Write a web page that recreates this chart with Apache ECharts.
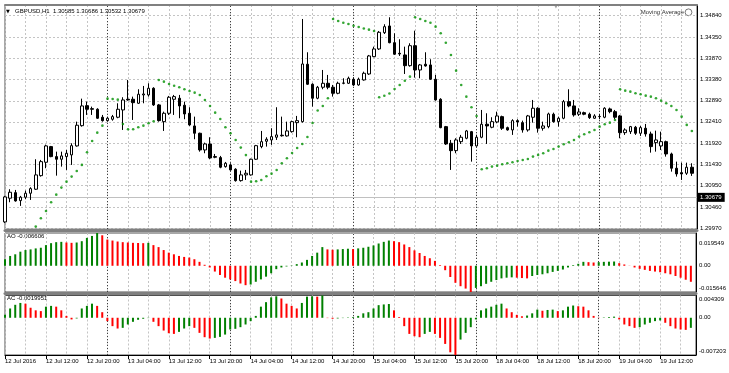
<!DOCTYPE html>
<html><head><meta charset="utf-8">
<script src="https://cdn.jsdelivr.net/npm/echarts@6/dist/echarts.min.js"></script>
<style>html,body{margin:0;padding:0;background:#fff}#c{width:729px;height:373px}</style>
</head><body><div id="c"></div>
<script>
// ---------- data ----------
const days = ['12 Jul','13 Jul','14 Jul','15 Jul','18 Jul','19 Jul'];
const firstHour = 4;
const barCount = 135;
const xTickLabels = ['12 Jul 2016','12 Jul 12:00','12 Jul 20:00','13 Jul 04:00','13 Jul 12:00','13 Jul 20:00',
  '14 Jul 04:00','14 Jul 12:00','14 Jul 20:00','15 Jul 04:00','15 Jul 12:00','15 Jul 20:00',
  '18 Jul 04:00','18 Jul 12:00','18 Jul 20:00','19 Jul 04:00','19 Jul 12:00'];
const priceTicks = ['1.29970','1.30460','1.30950','1.31430','1.31920','1.32410','1.32890','1.33380','1.33870','1.34350','1.34840'];
const lastPrice = '1.30679';
const headerText = 'GBPUSD,H1  1.30585 1.30686 1.30532 1.30679';
const aoTicks = ['0.019549','0.00','-0.015646'];
const acTicks = ['0.004309','0.00','-0.007203'];
const aoLabel = 'AO -0.006606';
const acLabel = 'AC -0.0019951';

const opens = [1.30116,1.30659,1.30787,1.30604,1.30682,1.30773,1.30865,1.31176,1.31483,1.31841,
1.31612,1.31552,1.31612,1.31651,1.31857,1.32321,1.32779,1.32711,1.32697,1.32514,
1.32436,1.32468,1.32514,1.32681,1.32926,1.32926,1.32834,1.33025,1.33025,1.33178,
1.32796,1.32413,1.32605,1.32926,1.32949,1.32789,1.32605,1.32315,1.32147,1.31765,
1.31902,1.31612,1.31589,1.31383,1.31422,1.31323,1.31062,1.31193,1.31193,1.31552,
1.31841,1.31964,1.31994,1.32056,1.32102,1.32086,1.32184,1.32390,1.32413,1.33728,
1.33270,1.32949,1.33201,1.33292,1.33201,1.33063,1.33292,1.33292,1.33384,1.33254,
1.33368,1.33505,1.33902,1.34078,1.34451,1.34605,1.34222,1.33979,1.33941,1.33695,
1.34153,1.33597,1.33728,1.33712,1.33384,1.32926,1.32299,1.31918,1.31749,1.31955,
1.32033,1.32184,1.31857,1.32056,1.32354,1.32285,1.32406,1.32528,1.32276,1.32223,
1.32436,1.32390,1.32223,1.32514,1.32720,1.32262,1.32299,1.32583,1.32413,1.32491,
1.32871,1.32773,1.32583,1.32619,1.32583,1.32491,1.32528,1.32514,1.32704,1.32642,
1.32544,1.32161,1.32184,1.32285,1.32147,1.32262,1.32131,1.31932,1.31857,1.31955,
1.31673,1.31346,1.31245,1.31231,1.31369];
const closes = [1.30689,1.30796,1.30597,1.30682,1.30773,1.30879,1.31193,1.31497,1.31857,1.31612,
1.31552,1.31628,1.31689,1.31863,1.32331,1.32773,1.32697,1.32697,1.32491,1.32436,
1.32491,1.32528,1.32697,1.32910,1.32910,1.32848,1.33041,1.33047,1.33178,1.32796,
1.32436,1.32605,1.32972,1.32986,1.32773,1.32589,1.32338,1.32147,1.31765,1.31902,
1.31582,1.31598,1.31369,1.31460,1.31307,1.31062,1.31193,1.31231,1.31552,1.31863,
1.31955,1.32010,1.32070,1.32109,1.32090,1.32200,1.32413,1.32436,1.33734,1.33270,
1.32949,1.33201,1.33292,1.33201,1.33063,1.33292,1.33299,1.33407,1.33254,1.33384,
1.33521,1.33918,1.34078,1.34460,1.34589,1.34222,1.33957,1.33963,1.33695,1.34153,
1.33597,1.33712,1.33689,1.33384,1.32910,1.32276,1.31902,1.31749,1.31994,1.32056,
1.32200,1.31857,1.32056,1.32354,1.32315,1.32413,1.32544,1.32262,1.32223,1.32436,
1.32406,1.32223,1.32544,1.32720,1.32262,1.32315,1.32589,1.32413,1.32491,1.32871,
1.32773,1.32567,1.32635,1.32583,1.32505,1.32544,1.32532,1.32720,1.32642,1.32514,
1.32161,1.32223,1.32299,1.32147,1.32276,1.32131,1.31841,1.31994,1.31955,1.31673,
1.31346,1.31215,1.31215,1.31369,1.31231];
const highs = [1.30712,1.30865,1.30849,1.30712,1.30833,1.30911,1.31552,1.31536,1.31886,1.31857,
1.31726,1.31726,1.31765,1.31918,1.32413,1.32940,1.32871,1.32757,1.32720,1.32567,
1.32528,1.32567,1.32834,1.32972,1.33368,1.32986,1.33155,1.33231,1.33292,1.33201,
1.32818,1.32642,1.33002,1.33025,1.33025,1.32871,1.32743,1.32528,1.32161,1.31932,
1.32056,1.31673,1.31628,1.31490,1.31460,1.31346,1.31291,1.31307,1.31566,1.31880,
1.32200,1.32056,1.32262,1.32743,1.32528,1.32413,1.32436,1.32544,1.34765,1.34002,
1.33292,1.33231,1.33597,1.33483,1.33254,1.33329,1.33407,1.33444,1.33430,1.33421,
1.33558,1.33941,1.34131,1.34490,1.34644,1.34804,1.34437,1.34300,1.34131,1.34208,
1.34497,1.33734,1.34002,1.33842,1.33483,1.32949,1.32315,1.31994,1.32033,1.32109,
1.32223,1.32200,1.32109,1.32681,1.32605,1.32514,1.32642,1.32550,1.32299,1.32468,
1.32468,1.32436,1.32567,1.32910,1.32743,1.32413,1.32619,1.32619,1.32528,1.32910,
1.33155,1.32910,1.32720,1.32642,1.32619,1.32583,1.32583,1.32743,1.32734,1.32681,
1.32567,1.32262,1.32315,1.32315,1.32315,1.32360,1.32184,1.32207,1.32184,1.31978,
1.31703,1.31497,1.31474,1.31474,1.31460];
const lows = [1.30093,1.30567,1.30581,1.30483,1.30636,1.30620,1.30849,1.31154,1.31346,1.31598,
1.31176,1.31383,1.31307,1.31422,1.31841,1.32299,1.32567,1.32567,1.32475,1.32413,
1.32413,1.32436,1.32491,1.32223,1.32894,1.32452,1.32818,1.32834,1.32986,1.32773,
1.32413,1.32200,1.32567,1.32567,1.32491,1.32468,1.32315,1.32010,1.31726,1.31689,
1.31552,1.31575,1.31346,1.31360,1.31291,1.31039,1.31039,1.31078,1.31176,1.31536,
1.31804,1.31841,1.31880,1.31994,1.32070,1.32070,1.32161,1.32056,1.32390,1.33254,
1.32757,1.32926,1.33155,1.33155,1.32986,1.33041,1.33270,1.33276,1.33231,1.33237,
1.33352,1.33483,1.33888,1.34055,1.34421,1.34208,1.33941,1.33918,1.33505,1.33673,
1.33421,1.33407,1.33673,1.33368,1.32894,1.32262,1.31880,1.31307,1.31689,1.31902,
1.32010,1.31497,1.31841,1.32033,1.31902,1.32262,1.32376,1.32223,1.32207,1.32109,
1.32299,1.32161,1.32184,1.32390,1.32161,1.32207,1.32262,1.32390,1.32299,1.32468,
1.32743,1.32528,1.32544,1.32560,1.32475,1.32475,1.32468,1.32491,1.32605,1.32468,
1.32033,1.32109,1.32131,1.32109,1.32086,1.32070,1.31703,1.31726,1.31765,1.31612,
1.31268,1.31154,1.31078,1.31193,1.31170];
const sar = [null,null,null,null,null,1.29944,1.30009,1.30201,1.30368,1.30567,
1.30741,1.30902,1.31039,1.31154,1.31284,1.31422,1.31712,1.31971,1.32161,1.32321,
1.32940,1.32933,1.32917,1.32360,1.32239,1.32239,1.32285,1.32321,1.32376,1.32422,
1.33368,1.33329,1.33276,1.33237,1.33201,1.33155,1.33116,1.33077,1.33025,1.32910,
1.32773,1.32619,1.32475,1.32285,1.32147,1.31994,1.31818,1.31647,1.31039,1.31048,
1.31078,1.31163,1.31222,1.31307,1.31460,1.31575,1.31696,1.31811,1.31902,1.32063,
1.32383,1.32670,1.32773,1.32949,1.34765,1.34719,1.34680,1.34650,1.34611,1.34582,
1.34547,1.34520,1.34490,1.32972,1.33006,1.33059,1.33162,1.33254,1.33350,1.33444,
1.34804,1.34765,1.34719,1.34680,1.34589,1.34437,1.34222,1.33941,1.33581,1.33254,
1.32986,1.32743,1.32544,1.31323,1.31346,1.31383,1.31405,1.31438,1.31460,1.31483,
1.31513,1.31536,1.31559,1.31612,1.31651,1.31689,1.31749,1.31788,1.31841,1.31896,
1.31941,1.31994,1.32070,1.32125,1.32170,1.32223,1.32299,1.32354,1.32390,1.32452,
1.33155,1.33123,1.33100,1.33063,1.33041,1.33008,1.32986,1.32949,1.32894,1.32834,
1.32773,1.32681,1.32528,1.32338,1.32200];
const ao = [0.0039,0.00586,0.00684,0.00841,0.00938,0.00977,0.01036,0.01075,0.01232,0.01349,
0.01408,0.01427,0.01388,0.01368,0.01388,0.01466,0.01662,0.01779,0.019549,0.01818,
0.01564,0.01505,0.01447,0.01408,0.01388,0.01368,0.01359,0.01349,0.01368,0.01232,
0.01114,0.00938,0.00782,0.00684,0.00586,0.00528,0.00489,0.00391,0.00235,0.00059,
-0.00102,-0.00345,-0.00549,-0.00711,-0.00813,-0.00914,-0.01057,-0.01158,-0.01118,-0.00955,
-0.00813,-0.0065,-0.00447,-0.00203,-0.00102,-0.00041,0.0002,0.00098,0.00195,0.00352,
0.00586,0.00782,0.01114,0.00977,0.00958,0.00977,0.00997,0.01017,0.00997,0.01036,
0.01075,0.01134,0.01212,0.01329,0.01427,0.01505,0.01466,0.01408,0.01271,0.01114,
0.00919,0.00762,0.00586,0.0045,0.00293,0.00039,-0.00264,-0.00671,-0.01016,-0.01219,
-0.01361,-0.015646,-0.01321,-0.01219,-0.01077,-0.00955,-0.00853,-0.00752,-0.00711,-0.00691,
-0.00711,-0.00732,-0.00752,-0.0061,-0.00549,-0.00508,-0.00447,-0.00366,-0.00305,-0.00224,
-0.00102,0.00039,0.00117,0.00235,0.00215,0.00195,0.00215,0.00235,0.00244,0.00254,
0.00156,0.00078,-0.0001,-0.00102,-0.00183,-0.00244,-0.00305,-0.00345,-0.00386,-0.00447,
-0.00508,-0.0061,-0.00711,-0.00833,-0.00955];
const ac = [0.00057,0.0018,0.00251,0.00287,0.00273,0.00194,0.00144,0.00129,0.00215,0.0023,
0.00215,0.00144,0.00036,-0.00032,-0.00013,0.0018,0.0023,0.00273,0.0023,0.00108,
-0.00065,-0.00162,-0.00208,-0.00195,-0.0013,-0.00078,-0.00039,-0.00019,-0.00006,-0.00078,
-0.00162,-0.00247,-0.00299,-0.00312,-0.00273,-0.00208,-0.00162,-0.00195,-0.00292,-0.00376,
-0.00402,-0.00389,-0.0037,-0.00325,-0.00227,-0.00214,-0.00182,-0.0013,-0.00065,0.00036,
0.00215,0.00302,0.00395,0.00416,0.00373,0.00273,0.0023,0.0018,0.00287,0.00409,
0.00416,0.00409,0.004309,-0.00006,-0.00019,-0.00013,-0.00006,0.00007,0.00014,0.00036,
0.00086,0.00108,0.0018,0.00244,0.00258,0.00266,0.00144,0.00014,-0.00162,-0.00312,
-0.00357,-0.00376,-0.00312,-0.00273,-0.00312,-0.00389,-0.00506,-0.00668,-0.007203,-0.00422,
-0.00292,-0.00182,-0.00032,0.00144,0.0018,0.00215,0.00251,0.00273,0.0018,0.00108,
0.00057,0.00029,0.00043,0.00086,0.00158,0.00136,0.00151,0.00158,0.00129,0.00144,
0.00215,0.00237,0.00223,0.00215,0.00144,0.00036,-0.00006,0.00007,0.00014,0.00022,
-0.00032,-0.0013,-0.00162,-0.00195,-0.00182,-0.0013,-0.00097,-0.00065,-0.00052,-0.00097,
-0.00162,-0.00208,-0.00227,-0.00234,-0.00195];

// ---------- derived ----------
const categories = [];
for (let d = 0; d < days.length && categories.length < barCount; d++) {
  for (let h = (d === 0 ? firstHour : 0); h < 24 && categories.length < barCount; h++) {
    categories.push(days[d] + ' ' + String(h).padStart(2, '0') + ':00');
  }
}
const daySeps = categories.filter(c => c.endsWith(' 00:00'));

const FONT = 'Liberation Sans';
const GREEN = '#008000', RED = '#ff0000', SAR_GREEN = '#009000';
const DASH = { color: '#c4c4c4', type: [2, 2], width: 1 };
const DAYSEP = { color: '#404040', type: [1, 2], width: 1 };
const L = 5, R = 32;
const priceMin = 1.29954, priceMax = 1.35085;
const aoMax = parseFloat(aoTicks[0]), aoMin = parseFloat(aoTicks[2]);
const acMax = parseFloat(acTicks[0]), acMin = parseFloat(acTicks[2]);

function xAxisFor(grid, extra) {
  return Object.assign({
    type: 'category', gridIndex: grid, data: categories, boundaryGap: false, max: barCount,
    axisLine: { show: false }, axisTick: { show: false }, axisLabel: { show: false },
    splitLine: { show: true, interval: (i) => i % 4 === 0, lineStyle: DASH }
  }, extra);
}
function subLabel(ticks, max, min) {
  return function (v) {
    if (Math.abs(v) < 1e-12) return ticks[1];
    if (Math.abs(v - max) < 1e-7) return '{t|' + ticks[0] + '}';
    if (Math.abs(v - min) < 1e-7) return '{b|' + ticks[2] + '}';
    return '';
  };
}
function colored(arr) {
  return arr.map((v, i) => ({ value: v, itemStyle: { color: (i === 0 || v >= arr[i - 1]) ? GREEN : RED } }));
}
const daySepLines = daySeps.map(c => ({ xAxis: c, lineStyle: DAYSEP, label: { show: false } }));
const priceLines = priceTicks.map(t => ({
  yAxis: parseFloat(t), lineStyle: DASH,
  label: { show: true, position: 'end', formatter: t, color: '#000', fontSize: 6, fontFamily: FONT, distance: 3 }
}));
priceLines.push({
  yAxis: parseFloat(lastPrice), lineStyle: { color: '#c0c0c0', type: 'solid', width: 1 },
  label: { show: true, position: 'end', formatter: lastPrice, color: '#fff', backgroundColor: '#000',
    padding: [2, 3, 1, 2], fontSize: 6, fontFamily: FONT, distance: 1 }
});
const lbl = { fontSize: 6, fontFamily: FONT, color: '#000' };
const markBase = { silent: true, z: 1, precision: 8, symbol: ['none', 'none'], animation: false };

const option = {
  animation: false,
  backgroundColor: '#fff',
  grid: [
    { left: L, right: R, top: 5, height: 224, show: true, borderColor: '#505050', borderWidth: 1 },
    { left: L, right: R, top: 233, height: 59, show: true, borderColor: '#505050', borderWidth: 1 },
    { left: L, right: R, top: 295.5, height: 59.5, show: true, borderColor: '#505050', borderWidth: 1 }
  ],
  xAxis: [
    xAxisFor(0, { axisLine: { show: true, onZero: false, lineStyle: { color: '#808080', width: 3 } }, offset: 1.5 }),
    xAxisFor(1, { axisLine: { show: true, onZero: false, lineStyle: { color: '#808080', width: 3 } }, offset: 1.5 }),
    xAxisFor(2, {
      axisLine: { show: true, onZero: false, lineStyle: { color: '#000', width: 1 } },
      axisTick: { show: true, interval: 7, length: 4, lineStyle: { color: '#000' } },
      axisLabel: Object.assign({ show: true, interval: 7, align: 'left', margin: 3,
        formatter: (v, i) => xTickLabels[Math.round(i / 8)] || '' }, lbl)
    }),
    xAxisFor(0, { position: 'top', splitLine: { show: false },
      axisLine: { show: true, onZero: false, lineStyle: { color: '#808080', width: 2 } } })
  ],
  yAxis: [
    { type: 'value', gridIndex: 0, position: 'right', min: priceMin, max: priceMax, scale: true,
      axisLine: { show: true, lineStyle: { color: '#000' } }, axisTick: { show: false },
      axisLabel: { show: false }, splitLine: { show: false } },
    { type: 'value', gridIndex: 1, position: 'right', min: aoMin, max: aoMax, interval: -aoMin,
      axisLine: { show: true, lineStyle: { color: '#000' } }, axisTick: { show: false }, splitLine: { show: false },
      axisLabel: Object.assign({ show: true, margin: 3, showMinLabel: true, showMaxLabel: true,
        formatter: subLabel(aoTicks, aoMax, aoMin),
        rich: { t: Object.assign({ padding: [21, 0, 0, 0] }, lbl), b: Object.assign({ padding: [0, 0, 7, 0] }, lbl) } }, lbl) },
    { type: 'value', gridIndex: 2, position: 'right', min: acMin, max: acMax, interval: -acMin,
      axisLine: { show: true, lineStyle: { color: '#000' } }, axisTick: { show: false }, splitLine: { show: false },
      axisLabel: Object.assign({ show: true, margin: 3, showMinLabel: true, showMaxLabel: true,
        formatter: subLabel(acTicks, acMax, acMin),
        rich: { t: Object.assign({ padding: [7, 0, 0, 0] }, lbl), b: Object.assign({ padding: [0, 0, 7, 0] }, lbl) } }, lbl) }
  ],
  series: [
    { type: 'candlestick', xAxisIndex: 0, yAxisIndex: 0, z: 3, barWidth: 3,
      data: opens.map((o, i) => [o, closes[i], lows[i], highs[i]]),
      itemStyle: { color: '#fff', color0: '#000', borderColor: '#000', borderColor0: '#000', borderWidth: 1 } },
    { type: 'scatter', xAxisIndex: 0, yAxisIndex: 0, z: 4, symbol: 'circle', symbolSize: 2.6,
      itemStyle: { color: SAR_GREEN }, data: sar,
      markLine: Object.assign({ data: priceLines.concat(daySepLines) }, markBase) },
    { type: 'bar', xAxisIndex: 1, yAxisIndex: 1, barWidth: 2, data: colored(ao),
      markLine: Object.assign({ data: daySepLines }, markBase) },
    { type: 'bar', xAxisIndex: 2, yAxisIndex: 2, barWidth: 2, data: colored(ac),
      markLine: Object.assign({ data: daySepLines }, markBase) }
  ],
  graphic: [
    { type: 'text', left: 6, top: 9, style: { text: '\u25BC', fontSize: 5, fontFamily: 'DejaVu Sans', fill: '#000' } },
    { type: 'text', left: 15, top: 8.5, style: { text: headerText, fontSize: 6, fontFamily: FONT, fill: '#000' } },
    { type: 'text', left: 554, top: 4, style: { text: '\u25BC', fontSize: 5, fontFamily: 'DejaVu Sans', fill: '#a0a0a0' } },
    { type: 'text', right: 45, top: 9, style: { text: 'Moving Average', fontSize: 6, fontFamily: FONT, fill: '#333' } },
    { type: 'circle', shape: { cx: 688.5, cy: 12.3, r: 3.4 }, style: { fill: 'none', stroke: '#555', lineWidth: 0.8 } },
    { type: 'text', left: 7, top: 233, style: { text: aoLabel, fontSize: 6, fontFamily: FONT, fill: '#000' } },
    { type: 'text', left: 7, top: 295.5, style: { text: acLabel, fontSize: 6, fontFamily: FONT, fill: '#000' } }
  ]
};
const chart = echarts.init(document.getElementById('c'), null, { renderer: 'canvas' });
chart.setOption(option);
</script>
</body></html>
